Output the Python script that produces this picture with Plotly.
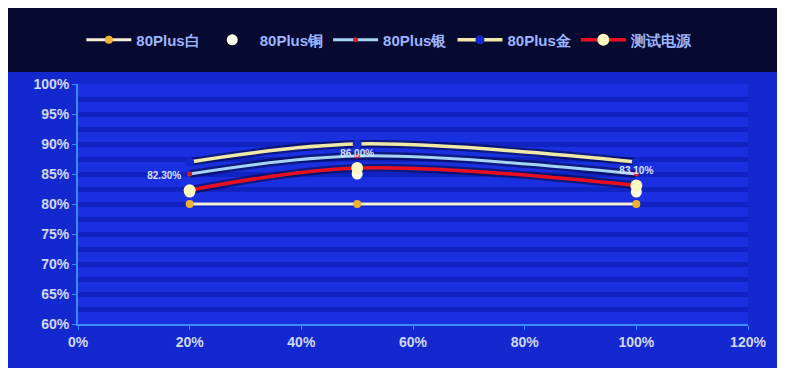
import plotly.graph_objects as go

load = [20, 50, 100]
white_vals = [80, 80, 80]
bronze_vals = [82, 85, 82]
silver_vals = [85, 88, 85]
gold_vals = [87, 90, 87]
test_vals = [82.3, 86.0, 83.1]
test_labels = ["82.30%", "86.00%", "83.10%"]
names = ["80Plus白", "80Plus铜", "80Plus银", "80Plus金", "测试电源"]

x_ticks = [0, 20, 40, 60, 80, 100, 120]
x_ticktext = ["0%", "20%", "40%", "60%", "80%", "100%", "120%"]
y_ticks = [60, 65, 70, 75, 80, 85, 90, 95, 100]
y_ticktext = ["60%", "65%", "70%", "75%", "80%", "85%", "90%", "95%", "100%"]

fig = go.Figure()

# dark drop shadows under the curves
for vals in (silver_vals, gold_vals, test_vals):
    fig.add_trace(go.Scatter(x=load, y=vals, mode="lines", showlegend=False, hoverinfo="skip",
                             line=dict(color="rgba(0,0,20,0.45)", width=8, shape="spline")))

fig.add_trace(go.Scatter(x=load, y=white_vals, name=names[0], mode="lines+markers",
                         line=dict(color="#f4efd8", width=3, shape="spline"),
                         marker=dict(color="#f0b030", size=8)))
fig.add_trace(go.Scatter(x=load, y=bronze_vals, name=names[1], mode="markers",
                         marker=dict(color="#fffbe8", size=11)))
fig.add_trace(go.Scatter(x=load, y=silver_vals, name=names[2], mode="lines+markers",
                         line=dict(color="#a8d4f4", width=3, shape="spline"),
                         marker=dict(color="#d02030", size=5)))
fig.add_trace(go.Scatter(x=load, y=gold_vals, name=names[3], mode="lines+markers",
                         line=dict(color="#f0eaa8", width=3.5, shape="spline"),
                         marker=dict(color="#1428d0", size=9)))
fig.add_trace(go.Scatter(x=load, y=test_vals, name=names[4], mode="lines+markers+text",
                         line=dict(color="#e81020", width=3.5, shape="spline"),
                         marker=dict(color="#fff6c0", size=12),
                         text=test_labels, textposition=["top left", "top center", "top center"],
                         textfont=dict(color="#d8e0ff", size=10, family="Liberation Sans", weight="bold")))

fig.update_layout(
    width=785, height=368,
    margin=dict(l=70, r=45, t=76, b=52, autoexpand=False),
    paper_bgcolor="#1428d0",
    plot_bgcolor="#1a30e0",
    font=dict(family="Liberation Sans", color="#d0d8f4"),
    showlegend=True,
    legend=dict(orientation="h", x=0.005, xanchor="left", y=1.183, yanchor="middle",
                font=dict(size=15, color="#9cb4ff", family="Liberation Sans", weight="bold"),
                bgcolor="rgba(0,0,0,0)", itemwidth=45),
    shapes=[
        dict(type="rect", xref="paper", yref="paper", x0=-0.2, x1=1.2, y0=1.05, y1=1.4,
             fillcolor="#070a30", line=dict(width=0), layer="below"),
    ],
)

fig.update_xaxes(range=[0, 120], tickvals=x_ticks, ticktext=x_ticktext,
                 showgrid=False, zeroline=False,
                 showline=True, linecolor="#3a8cff", linewidth=2,
                 ticks="outside", tickcolor="#3a8cff", ticklen=4,
                 tickfont=dict(size=14, color="#d0d8f4", family="Liberation Sans", weight="bold"))
fig.update_yaxes(range=[60, 100], tickvals=y_ticks, ticktext=y_ticktext,
                 showgrid=True, gridcolor="#1022c0", gridwidth=5, zeroline=False,
                 minor=dict(dtick=2.5, showgrid=True, gridcolor="#1022c0", gridwidth=5),
                 showline=True, linecolor="#3a8cff", linewidth=2,
                 ticks="outside", tickcolor="#3a8cff", ticklen=4,
                 tickfont=dict(size=14, color="#d0d8f4", family="Liberation Sans", weight="bold"))

fig.write_html("out.html")
